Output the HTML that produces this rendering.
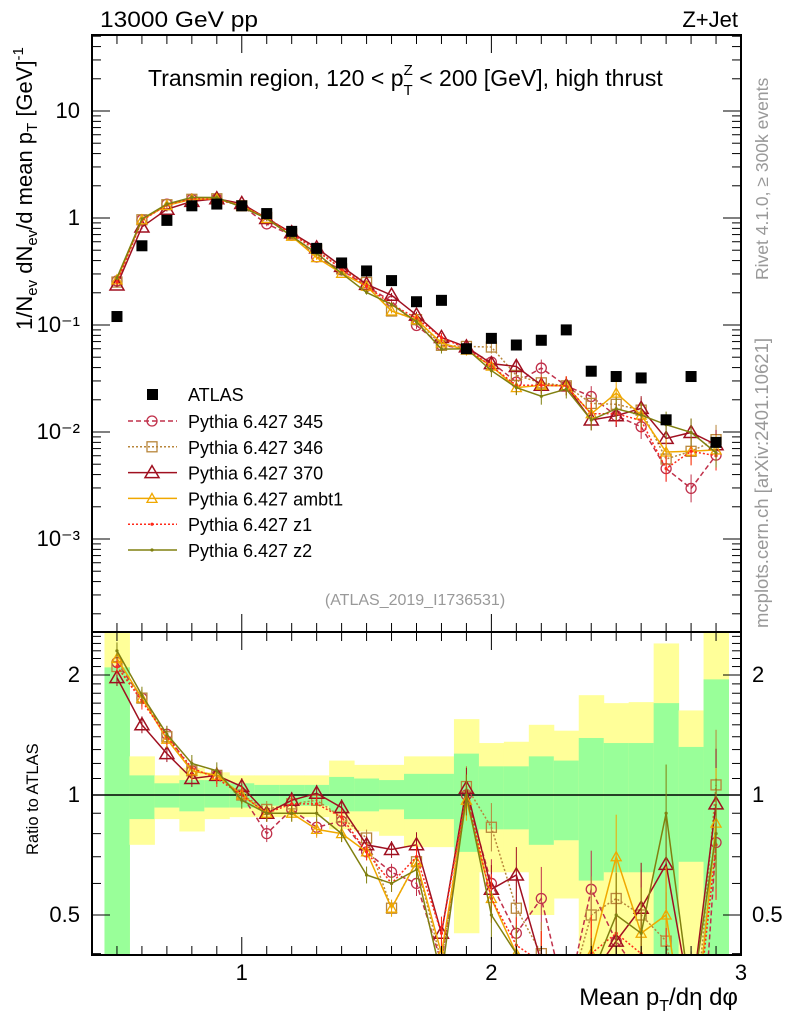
<!DOCTYPE html>
<html><head><meta charset="utf-8"><style>
html,body{margin:0;background:#fff;width:786px;height:1024px;overflow:hidden;position:relative}
svg{display:block;font-family:"Liberation Sans",sans-serif}
</style></head><body>
<svg id="chart" width="786" height="1024" style="position:absolute;left:0;top:0" xmlns="http://www.w3.org/2000/svg"></svg>
<script>
const xCenters=[0.5,0.6,0.7,0.8,0.9,1.0,1.1,1.2,1.3,1.4,1.5,1.6,1.7,1.8,1.9,2.0,2.1,2.2,2.3,2.4,2.5,2.6,2.7,2.8,2.9];
const atlasValues=[0.12,0.55,0.95,1.3,1.35,1.3,1.1,0.75,0.52,0.38,0.32,0.26,0.165,0.17,0.06,0.075,0.065,0.072,0.09,0.037,0.033,0.032,0.013,0.033,0.008];
const ratio345=[2.15,1.75,1.42,1.15,1.12,1.0,0.8,0.92,0.83,0.86,0.72,0.64,0.6,0.38,1.0,0.6,0.45,0.55,0.3,0.58,0.43,0.35,0.35,0.09,0.76];
const ratio346=[2.1,1.75,1.4,1.15,1.12,1.0,0.92,0.95,0.97,0.88,0.78,0.52,0.68,0.38,1.05,0.83,0.52,0.4,0.3,0.5,0.55,0.5,0.43,0.2,1.06];
const ratio370=[1.97,1.5,1.27,1.1,1.12,1.05,0.9,0.97,1.01,0.93,0.75,0.73,0.75,0.45,1.04,0.58,0.63,0.38,0.3,0.35,0.43,0.52,0.67,0.3,0.95];
const ratioAmbt1=[2.2,1.75,1.38,1.15,1.12,1.0,0.9,0.9,0.82,0.8,0.72,0.52,0.68,0.4,0.97,0.55,0.4,0.38,0.3,0.4,0.7,0.45,0.5,0.2,0.85];
const ratioZ1=[2.1,1.72,1.4,1.17,1.1,1.0,0.9,0.95,0.95,0.88,0.72,0.6,0.7,0.45,1.0,0.55,0.42,0.38,0.3,0.4,0.45,0.4,0.35,0.2,0.75];
const ratioZ2=[2.3,1.78,1.42,1.2,1.15,0.97,0.9,0.9,0.9,0.8,0.63,0.6,0.65,0.35,1.0,0.5,0.4,0.3,0.28,0.35,0.5,0.45,0.9,0.3,0.8];
const yellowUp=[3,1.25,1.12,1.17,1.14,1.12,1.12,1.12,1.12,1.22,1.19,1.19,1.25,1.25,1.55,1.35,1.36,1.5,1.45,1.78,1.7,1.71,2.4,1.63,3];
const yellowDn=[0.3,0.75,0.87,0.81,0.87,0.88,0.88,0.88,0.88,0.82,0.81,0.79,0.74,0.74,0.45,0.64,0.64,0.5,0.55,0.3,0.3,0.3,0.3,0.3,0.3];
const greenUp=[2.09,1.12,1.07,1.09,1.09,1.07,1.06,1.06,1.06,1.11,1.1,1.09,1.13,1.13,1.27,1.18,1.18,1.25,1.22,1.39,1.35,1.35,1.7,1.32,1.95];
const greenDn=[0.3,0.87,0.93,0.91,0.93,0.93,0.94,0.94,0.94,0.91,0.91,0.92,0.87,0.87,0.72,0.82,0.82,0.75,0.77,0.61,0.64,0.64,0.3,0.68,0.3];
const xTickLabels=[1,2,3];
const yMainTickLabels=["10","1","10⁻¹","10⁻²","10⁻³"];
const yMainTickValues=[10,1,0.1,0.01,0.001];
const yRatioTickValues=[0.5,1,2];

const NS="http://www.w3.org/2000/svg";
const svg=document.getElementById('chart');
const L=92,R=741,T=35,MB=632,RB=955;
const X=v=>L+(v-0.4)/2.6*(R-L);
const YM=v=>218-Math.log10(v)*107;
const YR=v=>795-Math.log2(v)*120;
function el(tag,attrs,parent){const e=document.createElementNS(NS,tag);for(const k in attrs)e.setAttribute(k,attrs[k]);(parent||svg).appendChild(e);return e;}
const defs=el('defs',{});
const c1=el('clipPath',{id:'cm'},defs);el('rect',{x:L,y:T,width:R-L,height:MB-T},c1);
const c2=el('clipPath',{id:'cr'},defs);el('rect',{x:L,y:MB,width:R-L,height:RB-MB},c2);

const bandG=el('g',{'clip-path':'url(#cr)'});


xCenters.forEach((c,i)=>{
  const x0=X(c-0.05),x1=X(c+0.05);
  const y=el('rect',{x:x0,y:YR(yellowUp[i]),width:x1-x0+0.5,height:YR(yellowDn[i])-YR(yellowUp[i]),fill:'#ffff99'},bandG);
  
  
  const g=el('rect',{x:x0,y:YR(greenUp[i]),width:x1-x0+0.5,height:YR(greenDn[i])-YR(greenUp[i]),fill:'#99ff99'},bandG);
  
  
});
el('line',{x1:L,x2:R,y1:YR(1),y2:YR(1),stroke:'#000','stroke-width':1.5});

const series=[
 {name:'345',r:ratio345,color:'#c0304a',dash:'5,3',marker:'circle'},
 {name:'346',r:ratio346,color:'#b8863b',dash:'2,2',marker:'square'},
 {name:'370',r:ratio370,color:'#a01020',dash:'',marker:'triangle'},
 {name:'ambt1',r:ratioAmbt1,color:'#f0a800',dash:'',marker:'tri-small'},
 {name:'z1',r:ratioZ1,color:'#ff2a1a',dash:'2,2',marker:'dot'},
 {name:'z2',r:ratioZ2,color:'#808010',dash:'',marker:'dot'}];
function marker(g,m,x,y,col){
  if(m==='circle')el('circle',{cx:x,cy:y,r:5,fill:'none',stroke:col,'stroke-width':1.3},g);
  else if(m==='square')el('rect',{x:x-5,y:y-5,width:10,height:10,fill:'none',stroke:col,'stroke-width':1.3},g);
  else if(m==='triangle')el('path',{d:`M${x},${y-7}L${x+7},${y+5}L${x-7},${y+5}Z`,fill:'none',stroke:col,'stroke-width':1.5},g);
  else if(m==='tri-small')el('path',{d:`M${x},${y-5}L${x+5},${y+4}L${x-5},${y+4}Z`,fill:'none',stroke:col,'stroke-width':1.3},g);
  else el('circle',{cx:x,cy:y,r:1.6,fill:col},g);
}
function drawSeries(s,panel){
  const g=el('g',{'clip-path':panel==='main'?'url(#cm)':'url(#cr)'});
  
  
  const val=i=>panel==='main'?atlasValues[i]*s.r[i]:s.r[i];
  const Y=panel==='main'?YM:YR;
  const pts=xCenters.map((c,i)=>X(c)+','+Y(val(i))).join(' ');
  const a={points:pts,fill:'none',stroke:s.color,'stroke-width':1.5};
  if(s.dash)a['stroke-dasharray']=s.dash;
  el('polyline',a,g);
  xCenters.forEach((c,i)=>{
    const v=val(i),e=0.05+0.25*Math.max(0,c-1.6);
    el('line',{x1:X(c),x2:X(c),y1:Y(v*(1+e)),y2:Y(v/(1+e)),stroke:s.color,'stroke-width':1},g);
    marker(g,s.marker,X(c),Y(v),s.color);
  });
}
series.forEach(s=>{drawSeries(s,'main');drawSeries(s,'ratio');});
const ag=el('g',{'clip-path':'url(#cm)'});


xCenters.forEach((c,i)=>{el('rect',{x:X(c)-5.5,y:YM(atlasValues[i])-5.5,width:11,height:11,fill:'#000'},ag);});

el('rect',{x:L,y:T,width:R-L,height:MB-T,fill:'none',stroke:'#000','stroke-width':2});
el('rect',{x:L,y:MB,width:R-L,height:RB-MB,fill:'none',stroke:'#000','stroke-width':2});
for(let k=5;k<=30;k++){const v=k/10,x=X(v),maj=(k%10===0),len=maj?18:9;
  [[T,1],[MB,-1],[MB,1],[RB,-1]].forEach(([y0,d])=>el('line',{x1:x,x2:x,y1:y0,y2:y0+d*len,stroke:'#000','stroke-width':1}));}
xTickLabels.forEach(v=>{const t=el('text',{x:X(v),y:980,'font-size':22,'text-anchor':'middle'});t.textContent=v;
  
  });
for(let d=-4;d<=1;d++)for(let m=1;m<=9;m++){const v=m*Math.pow(10,d),y=YM(v);if(y<T||y>MB)continue;const len=m===1?18:9;
  el('line',{x1:L,x2:L+len,y1:y,y2:y,stroke:'#000'});el('line',{x1:R,x2:R-len,y1:y,y2:y,stroke:'#000'});}
yMainTickValues.forEach((v,i)=>{const t=el('text',{x:80,y:YM(v)+7,'font-size':22,'text-anchor':'end'});t.textContent=yMainTickLabels[i];
  
  });
[0.4,0.5,0.6,0.7,0.8,0.9,1,1.1,1.2,1.3,1.4,1.5,1.6,1.7,1.8,1.9,2,2.1,2.2,2.3,2.4,2.5].forEach(v=>{const y=YR(v);if(y<MB||y>RB)return;const len=(v===0.5||v===1||v===2)?18:9;
  el('line',{x1:L,x2:L+len,y1:y,y2:y,stroke:'#000'});el('line',{x1:R,x2:R-len,y1:y,y2:y,stroke:'#000'});});
yRatioTickValues.forEach(v=>{[[80,'end'],[752,'start']].forEach(([x,a])=>{const t=el('text',{x:x,y:YR(v)+7,'font-size':22,'text-anchor':a});t.textContent=v;
  
  });});
const lg=el('g',{});


const lt=el('text',{x:188,y:401,'font-size':18},lg);lt.textContent='ATLAS';
el('rect',{x:147,y:389,width:11,height:11,fill:'#000'},lg);
series.forEach((s,i)=>{const y=421+i*25.8;
  const a={x1:128,x2:177,y1:y,y2:y,stroke:s.color,'stroke-width':1.5};if(s.dash)a['stroke-dasharray']=s.dash;el('line',a,lg);
  marker(lg,s.marker,152,y,s.color);
  const t=el('text',{x:188,y:y+7,'font-size':18},lg);t.textContent='Pythia 6.427 '+s.name;
  
  });
</script>
<svg style="position:absolute;left:0;top:0" width="786" height="1024" xmlns="http://www.w3.org/2000/svg" font-family="Liberation Sans, sans-serif">
<text x="100" y="27" font-size="22" textLength="158" lengthAdjust="spacingAndGlyphs">13000 GeV pp</text>
<text x="738" y="27" font-size="22" text-anchor="end">Z+Jet</text>
<text x="148" y="86" font-size="23">Transmin region, 120 &lt; p<tspan font-size="15" dy="9">T</tspan><tspan font-size="15" dx="-9" dy="-20">Z</tspan><tspan dy="11"> &lt; 200 [GeV], high thrust</tspan></text>
<text transform="translate(32,330) rotate(-90)" font-size="22">1/N<tspan font-size="15" dy="5">ev</tspan><tspan dy="-5"> dN</tspan><tspan font-size="15" dy="5">ev</tspan><tspan dy="-5">/d mean p</tspan><tspan font-size="15" dy="5">T</tspan><tspan dy="-5"> [GeV]</tspan><tspan font-size="15" dy="-9">-1</tspan></text>
<text transform="translate(38,855) rotate(-90)" font-size="16.5">Ratio to ATLAS</text>
<text x="738" y="1005" font-size="24" text-anchor="end">Mean p<tspan font-size="16" dy="6">T</tspan><tspan dy="-6">/dη dφ</tspan></text>
<text transform="translate(768,280) rotate(-90)" font-size="17.5" fill="#999">Rivet 4.1.0, ≥ 300k events</text>
<text transform="translate(768,628) rotate(-90)" font-size="18.5" fill="#999">mcplots.cern.ch [arXiv:2401.10621]</text>
<text x="415" y="605" font-size="16" fill="#999" text-anchor="middle">(ATLAS_2019_I1736531)</text>
</svg>
</body></html>
